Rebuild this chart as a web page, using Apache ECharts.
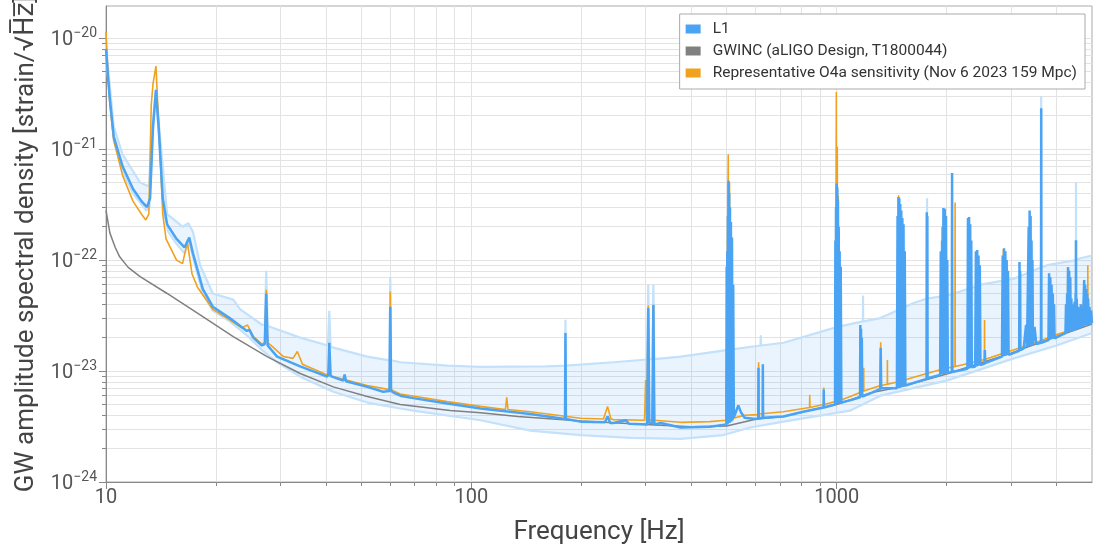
<!DOCTYPE html>
<html>
<head>
<meta charset="utf-8">
<script src="https://cdn.jsdelivr.net/npm/echarts@6/dist/echarts.min.js"></script>
<style>
  html, body { margin: 0; background: #fff; }
  #chart { width: 1094px; height: 548px; }
</style>
</head>
<body>
<div id="chart"></div>
<script>
// [frequency Hz, ASD strain/sqrt(Hz)]
const l1Median = [
  [10, 8.0e-21], [10.12, 4.6e-21], [10.25, 2.8e-21], [10.5, 1.3e-21], [11.1, 7.0e-22], [11.85, 4.4e-22],
  [12.5, 3.4e-22], [12.95, 3.0e-22], [13.2, 3.6e-22], [13.45, 1.6e-21], [13.7, 3.4e-21], [13.95, 1.5e-21],
  [14.3, 3.6e-22], [14.7, 2.1e-22], [15.6, 1.55e-22], [16.4, 1.3e-22], [16.9, 1.6e-22], [17.3, 1.15e-22],
  [18.4, 5.5e-23], [19.6, 3.8e-23], [21.8, 3.0e-23], [24.3, 2.3e-23], [24.7, 2.35e-23], [25.3, 2.0e-23],
  [26.7, 1.7e-23], [27.2, 1.75e-23], [27.45, 5.0e-23], [27.7, 1.7e-23], [29.4, 1.35e-23], [34, 1.1e-23],
  [40.3, 8.9e-24], [40.6, 9.3e-24], [40.85, 1.8e-23], [41.2, 9.0e-24], [41.6, 8.7e-24], [44.6, 8.2e-24],
  [45, 9.3e-24], [45.4, 8.1e-24], [51.9, 7.2e-24], [57.4, 6.5e-24], [59.7, 6.6e-24], [60, 3.8e-23],
  [60.3, 6.6e-24], [61.2, 6.4e-24], [63.9, 6.0e-24], [69.3, 5.7e-24], [85.9, 5.1e-24], [106, 4.6e-24],
  [145, 4.1e-24], [180.5, 3.7e-24], [181, 2.2e-23], [181.5, 3.7e-24], [199, 3.5e-24], [232, 3.45e-24],
  [236, 3.9e-24], [240, 3.4e-24], [245, 3.4e-24], [265, 3.6e-24], [270, 3.35e-24], [303, 3.3e-24],
  [305, 3.7e-23], [307, 3.4e-24], [313, 3.4e-24], [315, 3.95e-23], [317, 3.3e-24], [330, 3.4e-24],
  [374, 3.1e-24], [450, 3.15e-24],
  // 500 Hz violin cluster
  [499, 3.3e-24], [500, 8.7e-23], [501, 3.3e-24], [502, 1.2e-22], [503, 3.3e-24], [504, 2.5e-22],
  [505, 3.4e-24], [506, 5.2e-22], [507, 3.4e-24], [508, 4.0e-22], [509, 3.4e-24], [510.5, 3.0e-22],
  [512, 3.5e-24], [513.5, 2.2e-22], [515, 3.5e-24], [517, 1.6e-22], [519, 3.6e-24], [521, 6e-23],
  [523, 3.8e-24], [530, 4.3e-24], [538, 4.9e-24], [548, 4.2e-24], [560, 3.8e-24], [600, 3.7e-24],
  [610, 3.75e-24], [611, 1.07e-23], [612, 3.75e-24], [627, 3.8e-24], [628, 1.15e-23], [629, 3.8e-24],
  [715, 3.9e-24], [810, 4.3e-24], [921, 4.7e-24], [922, 6.8e-24], [923, 4.7e-24],
  // 1 kHz cluster
  [990, 5.0e-24], [992, 1.5e-22], [994, 5.0e-24], [996, 3.0e-22], [998, 5.0e-24], [1000, 4.9e-22],
  [1002, 5.0e-24], [1004, 4.5e-22], [1006, 5.1e-24], [1008, 3.5e-22], [1010, 5.1e-24], [1013, 2.0e-22],
  [1016, 5.1e-24], [1019, 1.2e-22], [1022, 5.1e-24], [1026, 8.7e-23], [1030, 5.2e-24],
  [1100, 5.5e-24], [1159, 5.8e-24], [1161, 2.6e-23], [1163, 5.8e-24], [1166, 2.4e-23], [1169, 5.8e-24],
  [1172, 2.0e-23], [1175, 5.9e-24], [1250, 6.4e-24], [1316, 6.9e-24], [1320, 1.62e-23], [1324, 7.0e-24],
  // 1.5 kHz cluster
  [1462, 7.0e-24], [1468, 2.5e-22], [1472, 7.0e-24], [1476, 3.7e-22], [1480, 7.1e-24], [1484, 3.6e-22],
  [1488, 7.1e-24], [1493, 3.2e-22], [1498, 7.2e-24], [1503, 2.8e-22], [1508, 7.2e-24], [1513, 2.4e-22],
  [1518, 7.3e-24], [1524, 2.1e-22], [1530, 7.3e-24], [1536, 1.2e-22], [1542, 7.4e-24],
  [1700, 8.2e-24], [1762, 8.5e-24], [1765, 2.7e-22], [1768, 8.5e-24], [1771, 2.5e-22], [1774, 8.6e-24],
  // 2 kHz cluster
  [1920, 9.2e-24], [1928, 1.2e-22], [1936, 9.3e-24], [1944, 1.5e-22], [1952, 9.4e-24], [1960, 2.95e-22],
  [1968, 9.4e-24], [1976, 2.9e-22], [1984, 9.5e-24], [1992, 2.5e-22], [2000, 9.5e-24], [2008, 1.0e-22],
  [2015, 9.6e-24], [2066, 9.8e-24], [2070, 6.1e-22], [2074, 9.8e-24],
  [2280, 1.05e-23], [2288, 2.4e-22], [2296, 1.05e-23], [2304, 2.44e-22], [2312, 1.06e-23], [2320, 2.1e-22],
  [2328, 1.07e-23], [2336, 1.5e-22], [2344, 1.08e-23],
  [2395, 1.1e-23], [2405, 1.2e-22], [2415, 1.1e-23], [2425, 1.23e-22], [2435, 1.11e-23], [2445, 1.1e-22],
  [2455, 1.12e-23], [2465, 9e-23], [2475, 1.13e-23], [2540, 1.17e-23], [2545, 1.55e-23], [2550, 1.18e-23],
  [2835, 1.35e-23], [2848, 1.1e-22], [2860, 1.36e-23], [2872, 1.28e-22], [2884, 1.37e-23], [2896, 1.2e-22],
  [2908, 1.38e-23], [2920, 1.0e-22], [2932, 1.39e-23], [2944, 8e-23], [2956, 1.4e-23],
  [3160, 1.52e-23], [3166, 9.6e-23], [3172, 1.53e-23], [3178, 8e-23], [3184, 1.54e-23], [3250, 1.6e-23],
  [3300, 2.6e-23], [3320, 1.65e-23],
  // 3.4 kHz cluster
  [3345, 1.66e-23], [3355, 2.0e-22], [3365, 1.67e-23], [3375, 2.8e-22], [3385, 1.68e-23], [3395, 2.5e-22],
  [3405, 1.69e-23], [3415, 1.5e-22], [3425, 1.7e-23], [3435, 1e-22], [3445, 1.71e-23], [3480, 2.5e-23],
  [3520, 1.75e-23], [3625, 1.8e-23], [3630, 2.34e-21], [3635, 1.8e-23],
  [3800, 1.9e-23], [3815, 7.6e-23], [3830, 1.92e-23], [3845, 7.0e-23], [3860, 1.94e-23], [3875, 6.0e-23],
  [3890, 1.95e-23], [3905, 5e-23], [3920, 1.96e-23], [3935, 4e-23], [3950, 1.97e-23], [4100, 2.1e-23],
  // dense lines above 4.2 kHz
  [4230, 2.2e-23], [4245, 4.0e-23], [4260, 2.21e-23], [4275, 5.0e-23], [4285, 2.23e-23], [4300, 8.6e-23],
  [4315, 2.24e-23], [4330, 8.0e-23], [4345, 2.25e-23], [4360, 7e-23], [4375, 2.27e-23], [4390, 4.5e-23],
  [4405, 2.28e-23], [4420, 4.0e-23], [4435, 2.3e-23], [4450, 3.6e-23], [4465, 2.32e-23], [4480, 4.2e-23],
  [4500, 2.36e-23], [4510, 5.0e-23], [4515, 2.38e-23], [4520, 1.51e-22], [4525, 2.38e-23], [4540, 4.5e-23],
  [4560, 2.4e-23], [4580, 3.8e-23], [4600, 2.42e-23], [4620, 3.5e-23], [4640, 2.45e-23], [4660, 4.0e-23],
  [4680, 2.48e-23], [4700, 3.6e-23], [4720, 2.5e-23], [4745, 2.55e-23], [4760, 6.6e-23], [4775, 2.56e-23],
  [4790, 6.0e-23], [4805, 2.57e-23], [4820, 5.5e-23], [4835, 2.58e-23], [4850, 5e-23], [4865, 2.59e-23],
  [4880, 4.5e-23], [4895, 2.6e-23], [4920, 3.8e-23], [4945, 2.63e-23], [4970, 3.5e-23], [5000, 2.7e-23]
];

const l1Upper = [
  [10, 8.5e-21], [10.5, 1.6e-21], [11.1, 9.0e-22], [12.4, 5.0e-22], [13.1, 4.6e-22], [13.4, 1.6e-21],
  [13.7, 3.5e-21], [14.0, 1.5e-21], [14.7, 2.6e-22], [16.2, 2.0e-22], [16.8, 2.15e-22], [17.3, 1.8e-22],
  [18.1, 9.0e-23], [19.6, 5.0e-23], [22.3, 4.4e-23], [23.3, 3.6e-23], [26.8, 2.6e-23], [27.2, 2.6e-23],
  [27.45, 8.0e-23], [27.7, 2.55e-23], [34, 2.0e-23], [40.5, 1.7e-23], [40.85, 3.5e-23], [41.2, 1.65e-23],
  [51.9, 1.35e-23], [59.7, 1.25e-23], [60, 7.0e-23], [60.3, 1.25e-23], [64, 1.2e-23], [86, 1.12e-23],
  [106, 1.09e-23], [160, 1.1e-23], [180.5, 1.12e-23], [181, 2.9e-23], [181.5, 1.12e-23], [245, 1.2e-23],
  [303, 1.27e-23], [305, 6e-23], [307, 1.28e-23], [313, 1.28e-23], [315, 6e-23], [317, 1.28e-23],
  [374, 1.35e-23], [505, 1.55e-23], [619, 1.7e-23], [620, 2.1e-23], [621, 1.7e-23], [715, 1.8e-23],
  [1006, 2.5e-23], [1180, 2.8e-23], [1181, 4.8e-23], [1182, 2.8e-23], [1318, 3.0e-23], [1626, 4.1e-23],
  [1767, 4.5e-23], [1768, 3.6e-22], [1769, 4.5e-23], [2015, 4.8e-23], [2483, 6.0e-23], [3056, 6.8e-23],
  [3628, 8.6e-23], [3630, 3.0e-21], [3632, 8.6e-23], [3770, 9.0e-23], [4519, 1.0e-22], [4520, 5.0e-22],
  [4521, 1.0e-22], [4650, 1.04e-22], [5000, 1.1e-22]
];

const l1Lower = [
  [10, 7.0e-21], [10.5, 1.2e-21], [11.1, 6.3e-22], [11.85, 4.0e-22], [12.9, 2.8e-22], [13.15, 3.0e-22],
  [13.4, 1.3e-21], [13.7, 3.1e-21], [14.0, 1.2e-21], [14.4, 2.7e-22], [14.8, 1.8e-22], [15.6, 1.4e-22],
  [16.4, 1.15e-22], [16.9, 1.45e-22], [17.3, 1.05e-22], [18.4, 5.0e-23], [19.6, 3.5e-23], [21.8, 2.8e-23],
  [24.3, 2.1e-23], [26.7, 1.55e-23], [29.4, 1.2e-23], [34, 8.9e-24], [41.9, 6.5e-24], [51.9, 5.2e-24],
  [63.9, 4.6e-24], [69.3, 4.4e-24], [106, 3.6e-24], [145, 2.9e-24], [199, 2.65e-24], [273, 2.5e-24],
  [374, 2.45e-24], [490, 2.65e-24], [580, 3.1e-24], [715, 3.5e-24], [1090, 4.4e-24], [1318, 6.0e-24],
  [2000, 8.2e-24], [3056, 1.3e-23], [4000, 1.7e-23], [5000, 2.2e-23]
];

const gwinc = [
  [10, 2.8e-22], [10.25, 1.75e-22], [10.6, 1.3e-22], [10.9, 1.07e-22], [11.5, 8.6e-23], [12.4, 7.1e-23],
  [14.7, 5.0e-23], [18.1, 3.2e-23], [22.3, 2.04e-23], [27.6, 1.35e-23], [34, 9.5e-24], [41.9, 7.2e-24],
  [51.9, 5.9e-24], [63.9, 5.0e-24], [87.5, 4.4e-24], [106, 4.2e-24], [134, 3.9e-24], [200, 3.55e-24],
  [300, 3.3e-24], [400, 3.15e-24], [500, 3.2e-24], [600, 3.68e-24], [715, 3.9e-24], [810, 4.3e-24],
  [1000, 5.0e-24], [1250, 6.4e-24], [1500, 7.2e-24], [2000, 9.4e-24], [3000, 1.45e-23],
  [4000, 2.05e-23], [5000, 2.65e-23]
];

const o4a = [
  [10, 1.15e-20], [10.12, 5.0e-21], [10.25, 2.5e-21], [10.5, 1.2e-21], [11.1, 5.8e-22], [11.85, 3.4e-22],
  [12.5, 2.6e-22], [12.85, 2.3e-22], [13.1, 2.6e-22], [13.3, 2.5e-21], [13.45, 3.9e-21], [13.7, 5.6e-21],
  [13.95, 1.6e-21], [14.3, 2.6e-22], [14.6, 1.55e-22], [15.6, 1.0e-22], [16.2, 9.3e-23], [16.7, 1.45e-22],
  [17.2, 7.5e-23], [17.8, 5.7e-23], [19.6, 3.6e-23], [21.8, 2.9e-23], [23.5, 2.45e-23], [24.4, 2.6e-23],
  [25.3, 2.05e-23], [26.7, 1.75e-23], [27.2, 1.8e-23], [27.45, 5.4e-23], [27.7, 1.8e-23], [28.6, 1.65e-23],
  [30.6, 1.35e-23], [32.5, 1.3e-23], [33.4, 1.5e-23], [34.5, 1.15e-23], [40.3, 9.2e-24], [51.9, 7.4e-24],
  [59.7, 6.8e-24], [60, 5.2e-23], [60.3, 6.8e-24], [63.9, 6.2e-24], [85.9, 5.3e-24], [106, 4.8e-24],
  [124, 4.5e-24], [125, 5.8e-24], [126, 4.5e-24], [145, 4.3e-24], [199, 3.75e-24], [230, 3.7e-24],
  [236, 4.8e-24], [241, 3.7e-24], [245, 3.65e-24], [298, 3.6e-24], [300, 8.3e-24], [302, 3.6e-24],
  [305, 3.9e-23], [307, 3.6e-24], [313, 3.6e-24], [315, 3.9e-23], [317, 3.6e-24], [374, 3.45e-24],
  [450, 3.5e-24], [498, 3.6e-24], [505, 9.0e-22], [507, 3.7e-24], [509, 5.0e-22], [511, 3.7e-24],
  [560, 4.0e-24], [611, 4.05e-24], [611.5, 1.2e-23], [612, 4.1e-24], [715, 4.3e-24], [843, 4.7e-24],
  [844, 6.1e-24], [845, 4.7e-24], [921, 5.0e-24], [922, 7.1e-24], [923, 5.0e-24], [992, 5.3e-24],
  [998, 3.27e-21], [1001, 5.4e-24], [1004, 1.05e-21], [1007, 5.4e-24], [1010, 3.8e-22], [1014, 5.4e-24],
  [1090, 5.9e-24], [1185, 6.6e-24], [1186, 1.07e-23], [1187, 6.6e-24], [1318, 7.4e-24], [1320, 1.82e-23],
  [1322, 7.4e-24], [1376, 7.6e-24], [1377, 1.26e-23], [1378, 7.6e-24], [1476, 8.0e-24], [1478, 3.85e-22],
  [1480, 8.0e-24], [1626, 8.8e-24], [1940, 1.04e-23], [1942, 2.0e-22], [1944, 1.04e-23], [2108, 1.1e-23],
  [2110, 3.3e-22], [2112, 1.1e-23], [2291, 1.17e-23], [2293, 2.2e-22], [2295, 1.17e-23], [2538, 1.27e-23],
  [2540, 2.88e-23], [2542, 1.27e-23], [2858, 1.45e-23], [2860, 1.25e-22], [2862, 1.45e-23], [3500, 1.8e-23],
  [4027, 2.15e-23], [4288, 2.3e-23], [4290, 8.65e-23], [4292, 2.3e-23], [4868, 2.8e-23], [4870, 9.0e-23],
  [4872, 2.8e-23], [5000, 2.9e-23]
];

const xMajorTicks = [10, 100, 1000];
const xMinorTicks = [20, 30, 40, 50, 60, 70, 80, 90, 200, 300, 400, 500, 600, 700, 800, 900, 2000, 3000, 4000];
const yMajorTicks = [1e-24, 1e-23, 1e-22, 1e-21, 1e-20];
const yMinorTicks = [
  2e-24, 3e-24, 4e-24, 5e-24, 6e-24, 7e-24, 8e-24, 9e-24,
  2e-23, 3e-23, 4e-23, 5e-23, 6e-23, 7e-23, 8e-23, 9e-23,
  2e-22, 3e-22, 4e-22, 5e-22, 6e-22, 7e-22, 8e-22, 9e-22,
  2e-21, 3e-21, 4e-21, 5e-21, 6e-21, 7e-21, 8e-21, 9e-21
];

const names = {
  l1: 'L1',
  gwinc: 'GWINC (aLIGO Design, T1800044)',
  o4a: 'Representative O4a sensitivity (Nov 6 2023 159 Mpc)'
};

const FONT = 'Roboto, "DejaVu Sans", sans-serif';
const GRID_COLOR = '#e3e3e3';
const AXIS_COLOR = '#888';

const chart = echarts.init(document.getElementById('chart'), null, { renderer: 'canvas' });

function lineSeries(name, data, color, width, z) {
  return {
    name, type: 'line', data, z,
    showSymbol: false, symbol: 'none',
    lineStyle: { color, width },
    itemStyle: { color },
    emphasis: { disabled: true },
    animation: false
  };
}

chart.setOption({
  animation: false,
  textStyle: { fontFamily: FONT },
  grid: {
    left: 106, right: 2, top: 6, bottom: 66,
    containLabel: false, outerBoundsMode: 'none',
    show: true, borderColor: '#aaa', borderWidth: 1
  },
  legend: {
    data: [names.l1, names.gwinc, names.o4a],
    orient: 'vertical',
    right: 9, top: 14,
    padding: [7, 8, 8, 6],
    itemGap: 6,
    itemWidth: 15, itemHeight: 9,
    icon: 'rect',
    backgroundColor: '#fff',
    borderColor: '#aaa', borderWidth: 1,
    textStyle: { fontSize: 15.5, color: '#333', fontFamily: FONT, padding: [0, 0, 0, 7] }
  },
  xAxis: [
    {
      type: 'log', logBase: 10, min: 10, max: 5000, position: 'bottom',
      name: 'Frequency [Hz]', nameLocation: 'middle', nameGap: 37,
      nameTextStyle: { fontSize: 26, color: '#444', fontFamily: FONT },
      axisLine: { lineStyle: { color: AXIS_COLOR } },
      axisTick: { customValues: xMajorTicks.concat(xMinorTicks), length: 4, lineStyle: { color: AXIS_COLOR } },
      axisLabel: { customValues: xMajorTicks, fontSize: 20, color: '#555', margin: 6, formatter: (v) => String(Math.round(v)) },
      splitLine: { show: true, lineStyle: { color: GRID_COLOR, width: 1 } }
    },
    {
      type: 'log', logBase: 10, min: 10, max: 5000, position: 'bottom',
      axisLine: { show: false },
      axisTick: { customValues: xMajorTicks, length: 7, lineStyle: { color: AXIS_COLOR } },
      axisLabel: { show: false },
      splitLine: { show: false }
    }
  ],
  yAxis: [
    {
      type: 'log', logBase: 10, min: 1e-24, max: 1.95e-20, position: 'left',
      name: 'GW amplitude spectral density [strain/\u221aH\u0305z\u0305]',
      nameLocation: 'middle', nameGap: 65,
      nameTextStyle: { fontSize: 26, color: '#444', fontFamily: FONT },
      axisLine: { show: true, lineStyle: { color: AXIS_COLOR } },
      axisTick: { customValues: yMajorTicks.concat(yMinorTicks), length: 4, lineStyle: { color: AXIS_COLOR } },
      axisLabel: {
        customValues: yMajorTicks, margin: 9, color: '#555',
        formatter: (v) => '{b|10}{s|\u2212' + Math.round(-Math.log10(v)) + '}',
        rich: {
          b: { fontSize: 20, color: '#555', fontFamily: FONT, verticalAlign: 'bottom', padding: [4, 0, 0, 0] },
          s: { fontSize: 14, color: '#555', fontFamily: FONT, verticalAlign: 'top' }
        }
      },
      splitLine: { show: true, lineStyle: { color: GRID_COLOR, width: 1 } }
    },
    {
      type: 'log', logBase: 10, min: 1e-24, max: 1.95e-20, position: 'left',
      axisLine: { show: false },
      axisTick: { customValues: yMajorTicks, length: 7, lineStyle: { color: AXIS_COLOR } },
      axisLabel: { show: false },
      splitLine: { show: false }
    }
  ],
  series: [
    {
      name: 'L1 band', type: 'custom', z: 1, silent: true,
      data: [[100, 1e-23]],
      renderItem: (params, api) => {
        const pts = l1Upper.map((p) => api.coord(p))
          .concat(l1Lower.slice().reverse().map((p) => api.coord(p)));
        return { type: 'polygon', shape: { points: pts }, style: { fill: 'rgba(74,163,243,0.12)' } };
      }
    },
    lineSeries('L1 upper', l1Upper, '#c4e1fb', 2.2, 2),
    lineSeries('L1 lower', l1Lower, '#c4e1fb', 2.2, 2),
    lineSeries(names.gwinc, gwinc, '#808080', 1.5, 3),
    lineSeries(names.o4a, o4a, '#f0a21f', 1.6, 4),
    lineSeries(names.l1, l1Median, '#4aa3f3', 2.5, 5)
  ]
});
</script>
</body>
</html>
